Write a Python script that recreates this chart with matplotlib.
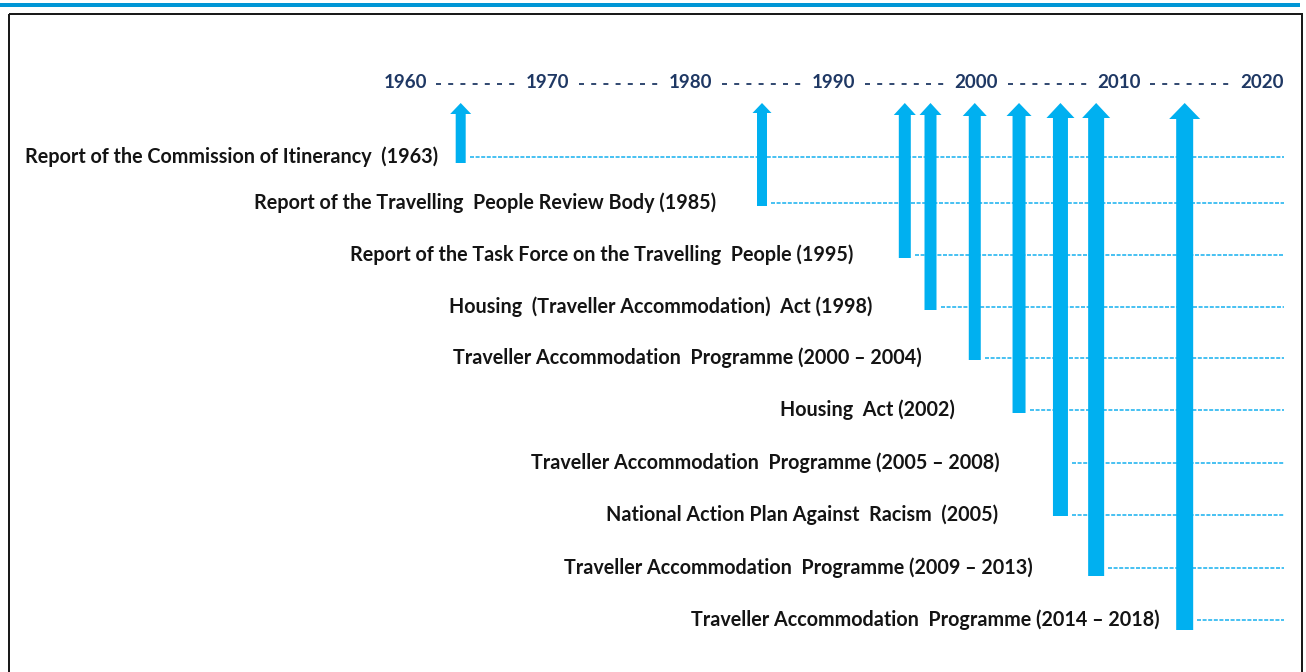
import matplotlib.pyplot as plt
from matplotlib.patches import ArrowStyle, FancyArrowPatch, Rectangle

# timeline data
DECADES = [1960, 1970, 1980, 1990, 2000, 2010, 2020]

EVENTS = [
    "Report of the Commission of Itinerancy  (1963)",
    "Report of the Travelling  People Review Body (1985)",
    "Report of the Task Force on the Travelling  People (1995)",
    "Housing  (Traveller Accommodation)  Act (1998)",
    "Traveller Accommodation  Programme (2000 \u2013 2004)",
    "Housing  Act (2002)",
    "Traveller Accommodation  Programme (2005 \u2013 2008)",
    "National Action Plan Against  Racism  (2005)",
    "Traveller Accommodation  Programme (2009 \u2013 2013)",
    "Traveller Accommodation  Programme (2014 \u2013 2018)",
]

# where each arrow sits on the year scale, and which arrow each event uses
ARROW_YEARS = [1963.9, 1985.0, 1995.0, 1996.8, 1999.9, 2003.0, 2005.9, 2008.4, 2014.6]
EVENT_ARROW = [0, 1, 2, 3, 4, 5, 6, 6, 7, 8]

# layout (pixels)
FIG_W, FIG_H = 1306, 672
PX_1960 = 405
PX_PER_YEAR = 14.28
ROW_Y = [157, 203, 255, 307, 358, 410, 463, 515, 568, 620]
LABEL_END_PX = [438, 716, 853, 872, 922, 955, 1000, 998, 1033, 1160]
ARROW_BOTTOM = [163, 206, 258, 310, 360, 413, 516, 576, 630]
ARROW_TOP = 103
SHAFT_PX = [10, 10, 12, 12, 12, 13, 15, 16, 17]
HEAD_W_PX = [21, 19, 22, 22, 24, 25, 28, 28, 31]
HEAD_L_PX = [11, 10, 12, 12, 13, 13, 15, 15, 16]
LINE_END_PX = 1284
YEAR_Y = 82

NAVY = "#1f3864"
ARROW_BLUE = "#00b0f0"
LINE_BLUE = "#1fb4f0"
TEXT = "#141414"

plt.rcParams["font.family"] = ["Lato", "DejaVu Sans"]
plt.rcParams["lines.scale_dashes"] = False


def px2yr(px: float) -> float:
    return 1960 + (px - PX_1960) / PX_PER_YEAR


def pt(px: float) -> float:
    return px * 72 / 100


fig = plt.figure(figsize=(FIG_W / 100, FIG_H / 100), dpi=100)
ax = fig.add_axes([0, 0, 1, 1])
ax.set_xlim(px2yr(0), px2yr(FIG_W))
ax.set_ylim(FIG_H, 0)
ax.axis("off")

# page furniture: blue rule on top and black frame
ax.plot([px2yr(0), px2yr(1300)], [5, 5], color="#0096d6", lw=pt(4),
        solid_capstyle="butt")
ax.add_patch(Rectangle((px2yr(9), 14), px2yr(1302) - px2yr(9), FIG_H,
                       fill=False, edgecolor="#1a1a1a", lw=pt(2)))

# decade labels with dashed links
half = 2.2
for i, yr in enumerate(DECADES):
    ax.text(yr, YEAR_Y, str(yr), ha="center", va="center", fontsize=13.5,
            fontweight="bold", color=NAVY)
    if i < len(DECADES) - 1:
        ax.plot([yr + half, DECADES[i + 1] - half + 0.1], [YEAR_Y + 1.5] * 2,
                color=NAVY, lw=pt(1.8), linestyle=(0, (pt(5), pt(7.2))),
                dash_capstyle="butt")

# event rows: label + dashed guide line
for i, label in enumerate(EVENTS):
    y = ROW_Y[i]
    a = EVENT_ARROW[i]
    ax.text(px2yr(LABEL_END_PX[i]), y, label, ha="right", va="center",
            fontsize=14.2, fontweight="bold", color=TEXT)
    x0 = ARROW_YEARS[a] + (SHAFT_PX[a] / 2 + 4) / PX_PER_YEAR
    ax.plot([x0, px2yr(LINE_END_PX)], [y, y], color=LINE_BLUE, lw=pt(1.6),
            linestyle=(0, (pt(4), pt(1.6))), dash_capstyle="butt")

# arrows pointing up to the timeline
for j, yr in enumerate(ARROW_YEARS):
    style = ArrowStyle.Simple(head_length=pt(HEAD_L_PX[j]),
                              head_width=pt(HEAD_W_PX[j]),
                              tail_width=pt(SHAFT_PX[j]))
    ax.add_patch(FancyArrowPatch((yr, ARROW_BOTTOM[j]), (yr, ARROW_TOP),
                                 arrowstyle=style, mutation_scale=1,
                                 shrinkA=0, shrinkB=0, color=ARROW_BLUE,
                                 lw=0, zorder=3))

fig.savefig("out.png", dpi=100)
plt.close(fig)
